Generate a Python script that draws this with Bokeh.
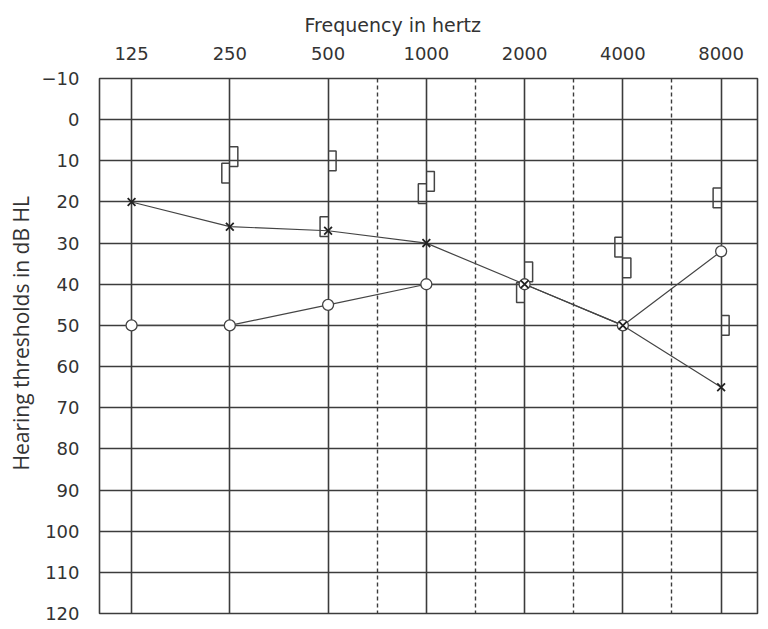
from bokeh.plotting import figure
from bokeh.models import Range1d, FixedTicker, Grid, Title
from bokeh.embed import file_html
from bokeh.resources import INLINE

# ---- data ----
freqs = [125, 250, 500, 1000, 2000, 4000, 8000]
freq_labels = ["125", "250", "500", "1000", "2000", "4000", "8000"]
left_air = [20, 26, 27, 30, 40, 50, 65]      # X
right_air = [50, 50, 45, 40, 40, 50, 32]     # O
bone_freqs = [250, 500, 1000, 2000, 4000, 8000]
right_bone = [13, 26, 18, 42, 31, 19]         # [
left_bone = [9, 10, 15, 37, 36, 50]           # ]
db_ticks = list(range(-10, 121, 10))

INK = "#3c3c3c"
TXT = "#333333"

p = figure(width=768, height=629, x_axis_type="log",
           x_range=Range1d(99.7, 10340), y_range=Range1d(120, -10),
           x_axis_location="above", toolbar_location=None,
           output_backend="svg", min_border_left=99, min_border_top=78,
           min_border_right=11, min_border_bottom=16,
           background_fill_color="white", border_fill_color="white")

p.title.text = "Frequency in hertz"
p.title.align = "left"
p.title.offset = 205
p.title.standoff = 16
p.title.text_font = "DejaVu Sans"
p.title.text_font_size = "19px"
p.title.text_font_style = "normal"
p.title.text_color = TXT

p.outline_line_color = INK
p.outline_line_width = 1.6

# x axis
xa = p.xaxis[0]
xa.ticker = FixedTicker(ticks=freqs)
xa.major_label_overrides = {f: l for f, l in zip(freqs, freq_labels)}
xa.axis_line_color = None
xa.major_tick_line_color = None
xa.minor_tick_line_color = None
xa.major_label_text_font = "DejaVu Sans"
xa.major_label_text_font_size = "18px"
xa.major_label_text_color = TXT
xa.major_label_standoff = 13

# y axis
ya = p.yaxis[0]
ya.ticker = FixedTicker(ticks=db_ticks)
ya.major_label_overrides = {-10: "\u221210"}
ya.axis_line_color = None
ya.major_tick_line_color = None
ya.minor_tick_line_color = None
ya.major_label_text_font = "DejaVu Sans"
ya.major_label_text_font_size = "18px"
ya.major_label_text_color = TXT
ya.major_label_standoff = 14

# grids
p.xgrid.ticker = FixedTicker(ticks=freqs)
p.xgrid.grid_line_color = INK
p.xgrid.grid_line_width = 1.6
p.ygrid.ticker = FixedTicker(ticks=db_ticks)
p.ygrid.grid_line_color = INK
p.ygrid.grid_line_width = 1.6
half_oct = [f * 2 ** 0.5 for f in freqs[2:-1]]
p.add_layout(Grid(dimension=0, ticker=FixedTicker(ticks=half_oct),
                  grid_line_color=INK, grid_line_width=1.4,
                  grid_line_dash="4 3"))

ylab = Title(text="Hearing thresholds in dB HL", align="left", offset=143,
             standoff=8, text_font="Open Sans", text_font_size="21px",
             text_font_style="normal", text_color=TXT)
p.add_layout(ylab, "left")

# connecting lines
p.line(freqs, left_air, line_color="#444444", line_width=1.2)
p.line(freqs, right_air, line_color="#444444", line_width=1.2)

# bone conduction brackets
k = 2 ** (8 / 98.1)
h = 2.4
xs_r, ys_r = [], []
for f, v in zip(bone_freqs, right_bone):
    xs_r.append([f, f / k, f / k, f])
    ys_r.append([v - h, v - h, v + h, v + h])
xs_l, ys_l = [], []
for f, v in zip(bone_freqs, left_bone):
    xs_l.append([f, f * k, f * k, f])
    ys_l.append([v - h, v - h, v + h, v + h])
p.multi_line(xs_r, ys_r, line_color="#444444", line_width=1.5)
p.multi_line(xs_l, ys_l, line_color="#444444", line_width=1.5)

# markers
p.scatter(freqs, right_air, marker="circle", size=11, fill_color="white",
          line_color="#444444", line_width=1.3)
p.scatter(freqs, left_air, marker="x", size=11, line_color="#222222",
          line_width=1.8)

open("out.html", "w").write(file_html(p, INLINE))
